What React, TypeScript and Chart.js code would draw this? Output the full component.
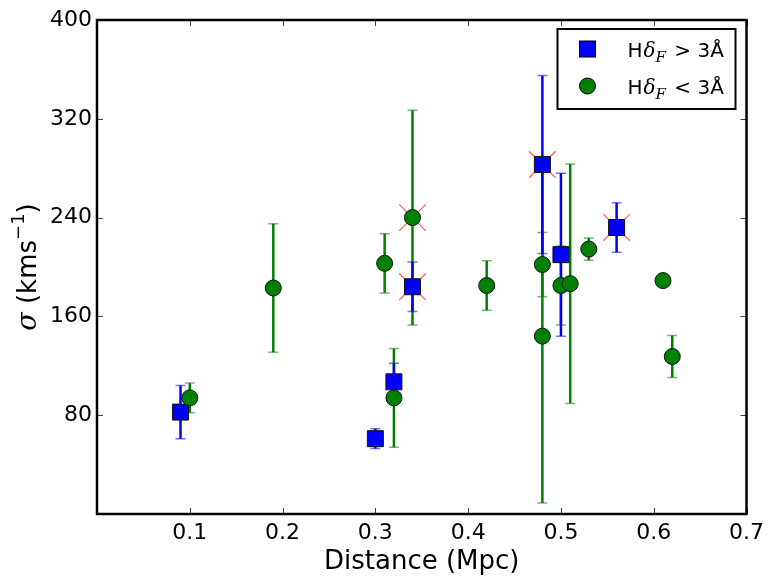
import React, { useEffect, useRef } from "react";
import { Chart, registerables } from "chart.js";

Chart.register(...registerables);

// ---- data ----
const blueX = [0.09, 0.30, 0.32, 0.34, 0.48, 0.50, 0.56];
const blueY = [82.5, 61, 107, 184, 283, 210, 232];
const blueErr = [21.5, 8, 15, 20, 72, 66, 20];
const blueFlag = [false, false, false, true, true, false, true];

const greenX = [0.10, 0.19, 0.31, 0.32, 0.34, 0.42, 0.48, 0.48, 0.50, 0.51, 0.53, 0.61, 0.62];
const greenY = [94, 183, 203, 94, 240, 185, 202, 144, 185, 186.5, 214.5, 189, 127.5];
const greenErr = [12, 52, 24, 40, 87, 20, 26, 135, 32, 97, 9, 3, 17];
const greenFlag = [false, false, false, false, true, false, false, false, false, false, false, false, false];

const xTicks = [0, 0.1, 0.2, 0.3, 0.4, 0.5, 0.6, 0.7];
const yTicks = [0, 80, 160, 240, 320, 400];

const xTitle = "Distance (Mpc)";
const legendBlue = ["H", "δ", "F", " > 3Å"];
const legendGreen = ["H", "δ", "F", " < 3Å"];
const yTitle = ["σ", " (kms", "−1", ")"];

const BLUE = "#0000ff";
const GREEN = "#008000";

type Seg = { t: string; font: string; dy?: number; dx?: number };

function drawSegs(ctx: CanvasRenderingContext2D, segs: Seg[], x: number, y: number, align: "left" | "center") {
  let total = 0;
  const widths = segs.map((s) => {
    ctx.font = s.font;
    const w = ctx.measureText(s.t).width + (s.dx || 0);
    total += w;
    return w;
  });
  let cx = align === "center" ? x - total / 2 : x;
  ctx.textAlign = "left";
  ctx.textBaseline = "alphabetic";
  segs.forEach((s, i) => {
    ctx.font = s.font;
    ctx.fillText(s.t, cx, y + (s.dy || 0));
    cx += widths[i];
  });
}

const decorPlugin = {
  id: "decor",
  beforeDatasetsDraw(chart: any) {
    const { ctx } = chart;
    const xs = chart.scales.x;
    const ys = chart.scales.y;
    const drawBars = (X: number[], Y: number[], E: number[], color: string, capColor: string) => {
      X.forEach((xv, i) => {
        const px = xs.getPixelForValue(xv);
        const top = ys.getPixelForValue(Y[i] + E[i]);
        const bot = ys.getPixelForValue(Y[i] - E[i]);
        ctx.save();
        ctx.strokeStyle = color;
        ctx.lineWidth = 2.5;
        ctx.beginPath();
        ctx.moveTo(px, top);
        ctx.lineTo(px, bot);
        ctx.stroke();
        ctx.strokeStyle = capColor;
        ctx.lineWidth = 1.5;
        ctx.beginPath();
        ctx.moveTo(px - 5, top);
        ctx.lineTo(px + 5, top);
        ctx.moveTo(px - 5, bot);
        ctx.lineTo(px + 5, bot);
        ctx.stroke();
        ctx.restore();
      });
    };
    drawBars(greenX, greenY, greenErr, GREEN, "rgba(0,128,0,0.55)");
    drawBars(blueX, blueY, blueErr, BLUE, "rgba(0,0,255,0.55)");
  },
  afterDraw(chart: any) {
    const { ctx, chartArea: a } = chart;
    const xs = chart.scales.x;
    const ys = chart.scales.y;
    ctx.save();
    // inward ticks on all four sides
    ctx.strokeStyle = "#444";
    ctx.lineWidth = 1;
    ctx.beginPath();
    xTicks.forEach((v) => {
      const p = Math.round(xs.getPixelForValue(v)) + 0.5;
      ctx.moveTo(p, a.bottom);
      ctx.lineTo(p, a.bottom - 6);
      ctx.moveTo(p, a.top);
      ctx.lineTo(p, a.top + 6);
    });
    yTicks.forEach((v) => {
      const p = Math.round(ys.getPixelForValue(v)) + 0.5;
      ctx.moveTo(a.left, p);
      ctx.lineTo(a.left + 6, p);
      ctx.moveTo(a.right, p);
      ctx.lineTo(a.right - 6, p);
    });
    ctx.stroke();
    // frame
    ctx.strokeStyle = "#000";
    ctx.lineWidth = 2.5;
    ctx.strokeRect(a.left, a.top, a.right - a.left, a.bottom - a.top);

    // legend
    const lx = a.right - 189;
    const ly = a.top + 9;
    const lw = 178;
    const lh = 80;
    ctx.fillStyle = "#fff";
    ctx.fillRect(lx, ly, lw, lh);
    ctx.lineWidth = 2;
    ctx.strokeStyle = "#000";
    ctx.strokeRect(lx, ly, lw, lh);
    // square marker
    ctx.fillStyle = BLUE;
    ctx.lineWidth = 1;
    ctx.fillRect(lx + 22, ly + 12, 16, 16);
    ctx.strokeRect(lx + 22, ly + 12, 16, 16);
    // circle marker
    ctx.fillStyle = GREEN;
    ctx.beginPath();
    ctx.arc(lx + 30, ly + 57, 8, 0, Math.PI * 2);
    ctx.fill();
    ctx.stroke();
    ctx.fillStyle = "#000";
    const mk = (L: string[]): Seg[] => [
      { t: L[0], font: "20px 'DejaVu Sans'", dx: 1 },
      { t: L[1], font: "italic 20px 'DejaVu Serif'" },
      { t: L[2], font: "italic 15px 'DejaVu Serif'", dy: 5, dx: 2 },
      { t: L[3], font: "20px 'DejaVu Sans'" },
    ];
    drawSegs(ctx, mk(legendBlue), lx + 70, ly + 28, "left");
    drawSegs(ctx, mk(legendGreen), lx + 70, ly + 65, "left");

    // x title
    ctx.fillStyle = "#000";
    drawSegs(ctx, [{ t: xTitle, font: "26px 'DejaVu Sans'" }], (a.left + a.right) / 2, 569, "center");

    // y title (rotated)
    ctx.translate(36, (a.top + a.bottom) / 2);
    ctx.rotate(-Math.PI / 2);
    drawSegs(
      ctx,
      [
        { t: yTitle[0], font: "italic 27px 'DejaVu Serif'" },
        { t: yTitle[1], font: "26px 'DejaVu Sans'" },
        { t: yTitle[2], font: "18px 'DejaVu Sans'", dy: -12 },
        { t: yTitle[3], font: "26px 'DejaVu Sans'" },
      ],
      0,
      0,
      "center"
    );
    ctx.restore();
  },
};

export default function App() {
  const ref = useRef<HTMLCanvasElement | null>(null);
  useEffect(() => {
    if (!ref.current) return;
    const flagged: { x: number; y: number }[] = [];
    blueX.forEach((x, i) => blueFlag[i] && flagged.push({ x, y: blueY[i] }));
    greenX.forEach((x, i) => greenFlag[i] && flagged.push({ x, y: greenY[i] }));
    const chart = new Chart(ref.current, {
      type: "scatter",
      data: {
        datasets: [
          {
            label: "green",
            data: greenX.map((x, i) => ({ x, y: greenY[i] })),
            pointStyle: "circle",
            pointRadius: 8,
            backgroundColor: GREEN,
            borderColor: "#111",
            borderWidth: 1,
          },
          {
            label: "blue",
            data: blueX.map((x, i) => ({ x, y: blueY[i] })),
            pointStyle: "rect",
            pointRadius: 11.3,
            backgroundColor: BLUE,
            borderColor: "#111",
            borderWidth: 1,
          },
          {
            label: "flag",
            data: flagged,
            pointStyle: "crossRot",
            pointRadius: 18.8,
            backgroundColor: "rgba(0,0,0,0)",
            borderColor: "rgba(255,40,40,0.75)",
            borderWidth: 1.2,
          },
        ],
      },
      options: {
        animation: false,
        responsive: false,
        devicePixelRatio: 1,
        events: [],
        layout: { padding: { top: 20, right: 20, left: 0, bottom: 0 } },
        plugins: { legend: { display: false }, tooltip: { enabled: false } },
        scales: {
          x: {
            type: "linear",
            min: 0,
            max: 0.7,
            afterBuildTicks: (s: any) => {
              s.ticks = xTicks.map((v) => ({ value: v }));
            },
            afterFit: (s: any) => {
              s.height = 65;
            },
            ticks: {
              autoSkip: false,
              maxRotation: 0,
              padding: 6,
              color: "#000",
              font: { family: "'DejaVu Sans'", size: 22 },
              callback: (v: any) => (Number(v) === 0 ? "" : Number(v).toFixed(1)),
            },
            grid: { display: false, drawTicks: false },
            border: { display: false },
          },
          y: {
            type: "linear",
            min: 0,
            max: 400,
            afterBuildTicks: (s: any) => {
              s.ticks = yTicks.map((v) => ({ value: v }));
            },
            afterFit: (s: any) => {
              s.width = 97;
            },
            ticks: {
              autoSkip: false,
              padding: 5,
              color: "#000",
              font: { family: "'DejaVu Sans'", size: 22 },
              callback: (v: any) => (Number(v) === 0 ? "" : String(v)),
            },
            grid: { display: false, drawTicks: false },
            border: { display: false },
          },
        },
      },
      plugins: [decorPlugin],
    });
    return () => chart.destroy();
  }, []);
  return (
    <div style={{ position: "fixed", left: 0, top: 0, width: 770, height: 579, background: "#fff" }}>
      <canvas ref={ref} width={770} height={579} style={{ width: 770, height: 579 }} />
    </div>
  );
}
